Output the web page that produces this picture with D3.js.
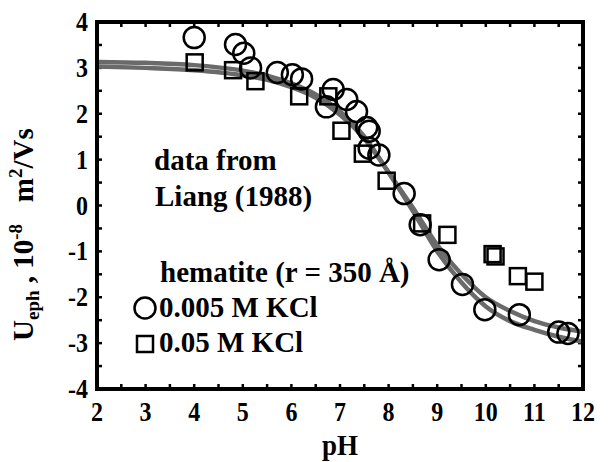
<!DOCTYPE html>
<html>
<head>
<meta charset="utf-8">
<script src="https://cdn.jsdelivr.net/npm/d3@7"></script>
<style>
  body { margin: 0; background: #fff; }
  text { font-family: "Liberation Serif", "Times New Roman", serif; font-weight: bold; fill: #000; }
</style>
</head>
<body>
<svg id="chart" width="610" height="462"></svg>
<script>
// measured mobility, 0.005 M KCl (circles)
var circlePH  = [4.0, 4.85, 5.02, 5.16, 5.71, 6.02, 6.21, 6.72, 6.86, 7.14, 7.34, 7.55, 7.6, 7.6, 7.8, 8.32, 8.65, 9.04, 9.52, 9.98, 10.69, 11.5, 11.69];
var circleU   = [3.66, 3.51, 3.32, 3.0, 2.9, 2.85, 2.76, 2.15, 2.53, 2.31, 2.05, 1.7, 1.62, 1.25, 1.1, 0.26, -0.42, -1.18, -1.72, -2.27, -2.38, -2.76, -2.79];

// measured mobility, 0.05 M KCl (squares)
var squarePH  = [4.01, 4.8, 5.26, 6.16, 6.76, 7.03, 7.47, 7.96, 8.69, 9.21, 10.14, 10.2, 10.66, 11.0];
var squareU   = [3.12, 2.95, 2.71, 2.38, 2.38, 1.63, 1.13, 0.54, -0.39, -0.64, -1.06, -1.11, -1.54, -1.66];

// model curves
var fitPH   = [2, 3, 4, 5, 5.5, 6, 6.5, 7, 7.5, 8, 8.5, 9, 9.5, 10, 10.5, 11, 11.5, 12];
var fitLowI = [3.13, 3.11, 3.06, 2.94, 2.83, 2.66, 2.42, 2.05, 1.5, 0.72, -0.12, -1.0, -1.68, -2.2, -2.52, -2.71, -2.86, -2.97];
var fitHighI= [3.03, 3.0, 2.95, 2.84, 2.74, 2.58, 2.35, 1.98, 1.46, 0.72, -0.05, -0.86, -1.5, -2.0, -2.3, -2.52, -2.66, -2.75];

var xTicks = [2, 3, 4, 5, 6, 7, 8, 9, 10, 11, 12];
var yTicks = [-4, -3, -2, -1, 0, 1, 2, 3, 4];

var svg = d3.select("#chart");
var mLeft = 97, mTop = 22, w = 486, h = 367;

var x = d3.scaleLinear().domain([2, 12]).range([mLeft, mLeft + w]);
var y = d3.scaleLinear().domain([-4, 4]).range([mTop + h, mTop]);

svg.append("defs").append("clipPath").attr("id", "clip")
    .append("rect").attr("x", mLeft).attr("y", mTop).attr("width", w).attr("height", h);

// minor inward ticks every 0.5 on all four sides
var minor = d3.range(2, 12.01, 0.5), minorY = d3.range(-4, 4.01, 0.5);
var tk = svg.append("g").attr("stroke", "#000").attr("stroke-width", 2.5);
minor.forEach(function (v) {
    tk.append("line").attr("x1", x(v)).attr("x2", x(v)).attr("y1", mTop + h).attr("y2", mTop + h - 5);
    tk.append("line").attr("x1", x(v)).attr("x2", x(v)).attr("y1", mTop).attr("y2", mTop + 5);
});
minorY.forEach(function (v) {
    tk.append("line").attr("y1", y(v)).attr("y2", y(v)).attr("x1", mLeft).attr("x2", mLeft + 5);
    tk.append("line").attr("y1", y(v)).attr("y2", y(v)).attr("x1", mLeft + w).attr("x2", mLeft + w - 5);
});

// fitted curves
var line = d3.line().curve(d3.curveMonotoneX)
    .x(function (d) { return x(d[0]); })
    .y(function (d) { return y(d[1]); });

[fitLowI, fitHighI].forEach(function (vals) {
    svg.append("path")
        .datum(fitPH.map(function (p, i) { return [p, vals[i]]; }))
        .attr("clip-path", "url(#clip)")
        .attr("fill", "none")
        .attr("stroke", "#6a6a6a")
        .attr("stroke-width", 4.5)
        .attr("d", line);
});

// data points
svg.append("g").selectAll("circle")
    .data(circlePH.map(function (p, i) { return [p, circleU[i]]; }))
    .enter().append("circle")
    .attr("cx", function (d) { return x(d[0]); })
    .attr("cy", function (d) { return y(d[1]); })
    .attr("r", 10.5)
    .attr("fill", "none").attr("stroke", "#000").attr("stroke-width", 2.5);

var sq = 16;
svg.append("g").selectAll("rect")
    .data(squarePH.map(function (p, i) { return [p, squareU[i]]; }))
    .enter().append("rect")
    .attr("x", function (d) { return x(d[0]) - sq / 2; })
    .attr("y", function (d) { return y(d[1]) - sq / 2; })
    .attr("width", sq).attr("height", sq)
    .attr("fill", "none").attr("stroke", "#000").attr("stroke-width", 2.5);

// frame
svg.append("rect")
    .attr("x", mLeft).attr("y", mTop).attr("width", w).attr("height", h)
    .attr("fill", "none").attr("stroke", "#000").attr("stroke-width", 4);

// tick labels (glyphs in the original look a little tall)
svg.append("g").selectAll("text").data(xTicks).enter().append("text")
    .attr("transform", function (d) { return "translate(" + x(d) + "," + (mTop + h + 32) + ") scale(1,1.18)"; })
    .attr("text-anchor", "middle")
    .style("font-size", "24px")
    .text(function (d) { return d; });

svg.append("g").selectAll("text").data(yTicks).enter().append("text")
    .attr("transform", function (d) { return "translate(" + (mLeft - 9) + "," + (y(d) + 9) + ") scale(1,1.18)"; })
    .attr("text-anchor", "end")
    .style("font-size", "24px")
    .text(function (d) { return d; });

// axis titles
svg.append("text")
    .attr("transform", "translate(" + (mLeft + w / 2) + ",455) scale(1,1.12)")
    .attr("text-anchor", "middle")
    .style("font-size", "27px")
    .text("pH");

var nb = "\u00a0";
var yl = svg.append("text")
    .attr("transform", "translate(33,341) rotate(-90)")
    .attr("text-anchor", "start")
    .style("font-size", "29px");
yl.append("tspan").text("U");
yl.append("tspan").attr("dy", 6).style("font-size", "19px").text("eph");
yl.append("tspan").attr("dy", -6).text(nb + "," + nb + "10");
yl.append("tspan").attr("dy", -11).style("font-size", "19px").text("-8");
yl.append("tspan").attr("dy", 11).text(nb + nb + nb + "m");
yl.append("tspan").attr("dy", -11).style("font-size", "19px").text("2");
yl.append("tspan").attr("dy", 11).text("/Vs");

// annotations
svg.append("text").attr("x", 154).attr("y", 170).style("font-size", "29px").text("data from");
svg.append("text").attr("x", 155).attr("y", 206).style("font-size", "29px").text("Liang (1988)");
svg.append("text").attr("x", 160).attr("y", 282).style("font-size", "29px").text("hematite (r = 350 Å)");

// legend
svg.append("circle").attr("cx", 145).attr("cy", 308).attr("r", 10.5)
    .attr("fill", "none").attr("stroke", "#000").attr("stroke-width", 2.5);
svg.append("text").attr("x", 159).attr("y", 317).style("font-size", "29px").text("0.005 M KCl");
svg.append("rect").attr("x", 137).attr("y", 336).attr("width", 16).attr("height", 16)
    .attr("fill", "none").attr("stroke", "#000").attr("stroke-width", 2.5);
svg.append("text").attr("x", 159).attr("y", 352).style("font-size", "29px").text("0.05 M KCl");
</script>
</body>
</html>
